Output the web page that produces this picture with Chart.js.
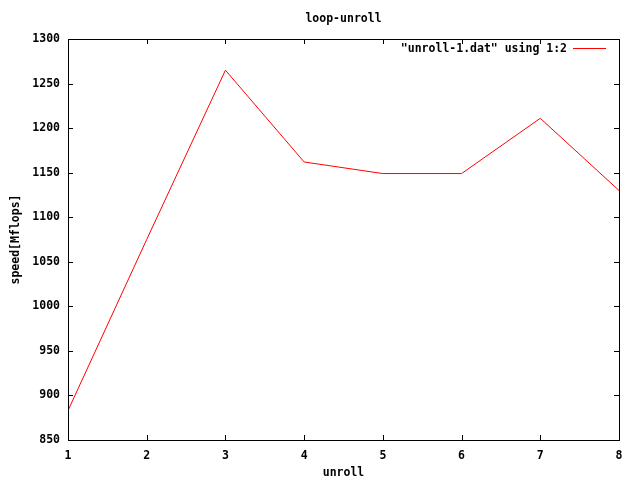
<!DOCTYPE html>
<html>
<head>
<meta charset="utf-8">
<script src="https://cdn.jsdelivr.net/npm/chart.js@4"></script>
<style>
  html, body { margin: 0; padding: 0; background: #fff; }
  canvas { display: block; }
</style>
</head>
<body>
<canvas id="chart" width="640" height="480"></canvas>
<script>
const unroll = [1, 2, 3, 4, 5, 6, 7, 8];
const speed = [883, 1075, 1265, 1162, 1149, 1149, 1211, 1130];
const xTicks = [1, 2, 3, 4, 5, 6, 7, 8];
const yTicks = [850, 900, 950, 1000, 1050, 1100, 1150, 1200, 1250, 1300];

const FONT = 'bold 11.5px "DejaVu Sans Mono"';
const tickFont = { family: 'DejaVu Sans Mono', size: 11.5, weight: 'bold' };

// gnuplot-ish frame, inward ticks on all sides, title and legend
const gnuplotFrame = {
    id: 'gnuplotFrame',
    afterDatasetsDraw(chart) {
        const ctx = chart.ctx;
        const a = chart.chartArea;
        const xs = chart.scales.x;
        const ys = chart.scales.y;
        const tl = 5;
        ctx.save();
        ctx.strokeStyle = '#000';
        ctx.lineWidth = 1;
        ctx.beginPath();
        xTicks.forEach(function(v) {
            const px = Math.round(xs.getPixelForValue(v)) + 0.5;
            ctx.moveTo(px, a.bottom); ctx.lineTo(px, a.bottom - tl);
            ctx.moveTo(px, a.top); ctx.lineTo(px, a.top + tl);
        });
        yTicks.forEach(function(v) {
            const py = Math.round(ys.getPixelForValue(v)) + 0.5;
            ctx.moveTo(a.left, py); ctx.lineTo(a.left + tl, py);
            ctx.moveTo(a.right, py); ctx.lineTo(a.right - tl, py);
        });
        ctx.stroke();
        ctx.strokeRect(Math.round(a.left) + 0.5, Math.round(a.top) + 0.5,
            Math.round(a.right - a.left), Math.round(a.bottom - a.top));

        // title
        ctx.fillStyle = '#000';
        ctx.font = FONT;
        ctx.textAlign = 'center';
        ctx.textBaseline = 'middle';
        ctx.fillText('loop-unroll', (a.left + a.right) / 2, 19);

        // legend, gnuplot style: text then line sample
        const ds = chart.data.datasets[0];
        ctx.textAlign = 'right';
        ctx.fillText(ds.label, a.right - 52, 49);
        ctx.strokeStyle = ds.borderColor;
        ctx.beginPath();
        ctx.moveTo(a.right - 46, 48.5);
        ctx.lineTo(a.right - 13, 48.5);
        ctx.stroke();
        ctx.restore();
    }
};

new Chart(document.getElementById('chart'), {
    type: 'line',
    data: {
        datasets: [{
            label: '"unroll-1.dat" using 1:2',
            data: unroll.map(function(u, i) { return { x: u, y: speed[i] }; }),
            borderColor: '#ff0000',
            borderWidth: 1,
            pointRadius: 0,
            tension: 0,
            fill: false
        }]
    },
    options: {
        responsive: false,
        animation: false,
        layout: { padding: { top: 39, right: 21, left: 0, bottom: 0 } },
        plugins: {
            legend: { display: false },
            title: { display: false },
            tooltip: { enabled: false }
        },
        scales: {
            x: {
                type: 'linear',
                min: 1,
                max: 8,
                afterBuildTicks: function(s) { s.ticks = xTicks.map(function(v) { return { value: v }; }); },
                afterFit: function(s) { s.height = 40; },
                grid: { display: false },
                border: { display: false },
                ticks: { color: '#000', font: tickFont, padding: 1, maxRotation: 0, callback: function(v) { return String(v); } },
                title: { display: true, text: 'unroll', color: '#000', font: tickFont, padding: { top: 0, bottom: 0 } }
            },
            y: {
                type: 'linear',
                min: 850,
                max: 1300,
                afterBuildTicks: function(s) { s.ticks = yTicks.map(function(v) { return { value: v }; }); },
                afterFit: function(s) { s.width = 68; },
                grid: { display: false },
                border: { display: false },
                ticks: { color: '#000', font: tickFont, padding: 0, callback: function(v) { return String(v); } },
                title: { display: true, text: 'speed[Mflops]', color: '#000', font: tickFont, padding: { top: 9, bottom: 0 } }
            }
        }
    },
    plugins: [gnuplotFrame]
});
</script>
</body>
</html>
